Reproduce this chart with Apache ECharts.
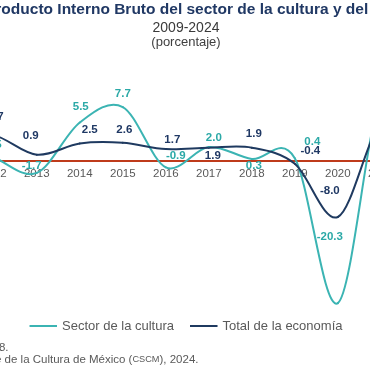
<!DOCTYPE html>
<html><head><meta charset="utf-8">
<script src="https://cdn.jsdelivr.net/npm/echarts@6/dist/echarts.min.js"></script>
<style>
html,body{margin:0;padding:0;width:370px;height:370px;overflow:hidden;background:#fff}
#wrap{position:absolute;left:-200px;top:0;width:772px;height:370px}
</style>
</head><body><div id="wrap"></div>
<script>
// ---- data ----
const years = ['2009','2010','2011','2012','2013','2014','2015','2016','2017','2018','2019','2020','2021','2022','2023','2024'];
const cultura = [-4.0, 4.2, 2.8, 0.5, -1.7, 5.5, 7.7, -0.9, 2.0, 0.3, 0.4, -20.3, 9.0, 5.0, 3.0, 2.0];
const economia = [-5.3, 5.1, 3.7, 3.7, 0.9, 2.5, 2.6, 1.7, 1.9, 1.9, -0.4, -8.0, 5.3, 3.9, 3.3, 1.2];
const seriesNames = ['Sector de la cultura', 'Total de la economía'];
const titleText = 'Producto Interno Bruto del sector de la cultura y del total de la economía';
const subtitle1 = '2009-2024';
const subtitle2 = '(porcentaje)';
const nota = 'Nota: Año base 2018.';

// ---- label placement (style only) ----
const culturaOff = [[0,-13],[0,-13],[0,-13],[0,-13],[-5,-7],[1,-16],[0,-13.5],[10,-11],[5,-9.5],[2,7],[17.5,-16.7],[-8,-66.4],[6,-13],[0,-13],[0,-13],[0,-13]];
const economiaOff = [[0,-13],[0,-13],[0,-13],[2,-18],[-6,-19],[10,-13.5],[1.5,-13],[6.5,-9.6],[4,8],[2,-13.7],[15.5,-12.8],[-8,-25.7],[6,-13],[0,-13],[0,-13],[0,-13]];

const OFF = 200; // container shift
const FONT = 'Liberation Sans, Arial, sans-serif';
const CYAN = '#3BB4B3', CYAN_TXT = '#2BA9A7', NAVY = '#1F3A60', NAVY_TXT = '#1F3864', RED = '#BF3B1B', GRAY = '#595959';

const chart = echarts.init(document.getElementById('wrap'), null, {renderer:'canvas'});

function mk(vals, offs) {
  return vals.map((v,i)=>({value:v, label:{offset:offs[i]}}));
}
function lbl(color){
  return {show:true, position:'inside', align:'center', verticalAlign:'middle',
    formatter:p=>Number(p.value).toFixed(1), fontFamily:FONT, fontSize:11.5, fontWeight:'bold', color:color};
}
// smooth curve (Catmull-Rom style, like spreadsheet smoothing) through the axis coordinates
function curve(vals, color){
  const n = vals.length;
  const cl = k => Math.max(0, Math.min(n-1, k));
  return {
    type:'custom', clip:false, silent:true, z:2,
    data: vals.map((v,i)=>[i,v]),
    encode:{x:0, y:1},
    renderItem:(params, api)=>{
      const i = params.dataIndex;
      if (i >= n-1) return null;
      const P = k => api.coord([cl(k), vals[cl(k)]]);
      const p0=P(i-1), p1=P(i), p2=P(i+1), p3=P(i+2);
      return {type:'bezierCurve', shape:{x1:p1[0],y1:p1[1],x2:p2[0],y2:p2[1],
        cpx1:p1[0]+(p2[0]-p0[0])/6, cpy1:p1[1]+(p2[1]-p0[1])/6,
        cpx2:p2[0]-(p3[0]-p1[0])/6, cpy2:p2[1]-(p3[1]-p1[1])/6},
        style:{stroke:color, lineWidth:2, fill:null, lineCap:'round'}};
    }
  };
}

chart.setOption({
  animation:false,
  backgroundColor:'#fff',
  grid:{left:43.2, width:688.2, top:21, height:140, containLabel:false},
  xAxis:{type:'category', data:years, boundaryGap:true,
    axisLine:{onZero:false, lineStyle:{color:RED, width:2}},
    axisTick:{show:false}, splitLine:{show:false},
    axisLabel:{interval:0, margin:7, fontSize:11.5, color:GRAY, fontFamily:FONT}},
  yAxis:{type:'value', min:0, max:20, show:false, splitLine:{show:false}},
  legend:{left:'center', top:314.5, icon:'rect', itemWidth:27.5, itemHeight:2, itemGap:16,
    textStyle:{fontSize:13, color:GRAY, fontFamily:FONT}, data:seriesNames},
  series:[
    curve(cultura, CYAN),
    curve(economia, NAVY),
    {type:'line', name:seriesNames[0], data:mk(cultura,culturaOff), symbol:'circle', symbolSize:1, z:3,
     showSymbol:true, clip:false, color:CYAN, lineStyle:{width:2, color:CYAN, opacity:0}, itemStyle:{color:CYAN}, label:lbl(CYAN_TXT)},
    {type:'line', name:seriesNames[1], data:mk(economia,economiaOff), symbol:'circle', symbolSize:1, z:3,
     showSymbol:true, clip:false, color:NAVY, lineStyle:{width:2, color:NAVY, opacity:0}, itemStyle:{color:NAVY}, label:lbl(NAVY_TXT)}
  ],
  graphic:[
    {type:'text', x:-15+OFF, y:10, style:{text:titleText, font:'bold 15.5px '+FONT, fill:'#203864', align:'left', verticalAlign:'middle'}},
    {type:'text', x:186+OFF, y:28, style:{text:subtitle1, font:'14px '+FONT, fill:'#3A3A3A', align:'center', verticalAlign:'middle'}},
    {type:'text', x:186+OFF, y:42, style:{text:subtitle2, font:'13px '+FONT, fill:'#404040', align:'center', verticalAlign:'middle'}},
    {type:'text', x:8.5+OFF, y:348, style:{text:nota, font:'11.5px '+FONT, fill:GRAY, align:'right', verticalAlign:'middle'}},
    {type:'text', x:198.5+OFF, y:359.5, style:{text:'{a|Fuente: INEGI. Cuenta Satélite de la Cultura de México (}{s|CSCM}{a|), 2024.}',
      rich:{a:{fontSize:11.5, fontFamily:FONT, fill:GRAY, color:GRAY}, s:{fontSize:9.2, fontFamily:FONT, fill:GRAY, color:GRAY}},
      align:'right', verticalAlign:'middle'}}
  ]
});
</script>
</body></html>
